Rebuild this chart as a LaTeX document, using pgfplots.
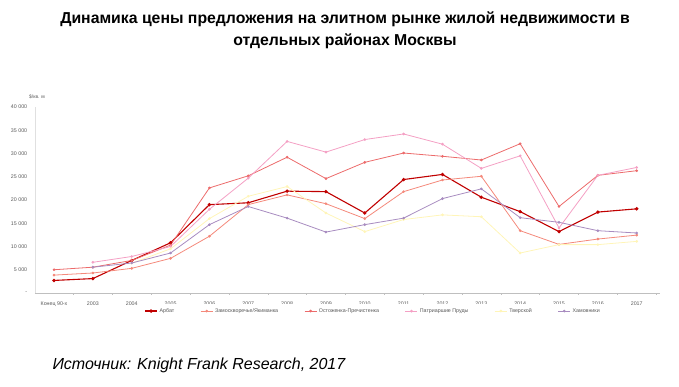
\documentclass[border=0pt]{standalone}
\usepackage{fontspec}
\setmainfont{Liberation Sans}
\usepackage{pgfplots}
\pgfplotsset{compat=1.18}
\definecolor{arbat}{HTML}{C00000}
\definecolor{zam}{HTML}{F4897B}
\definecolor{ost}{HTML}{EC6B6B}
\definecolor{pat}{HTML}{F4A0C4}
\definecolor{tver}{HTML}{FFF5B8}
\definecolor{ham}{HTML}{A88CC0}
\definecolor{lbl}{HTML}{595959}
\begin{document}
\begin{tikzpicture}
\path[use as bounding box] (0pt,0pt) rectangle (679pt,387pt);
\node[align=center,font=\bfseries\fontsize{15.8}{22}\selectfont] at (345pt,357pt)
  {Динамика цены предложения на элитном рынке жилой недвижимости в\\отдельных районах Москвы};
\node[anchor=west,font=\itshape\fontsize{16}{18}\selectfont] at (49pt,22pt) {Источник: Knight Frank Research, 2017};
\node[anchor=west,font=\fontsize{5}{6}\selectfont,text=lbl,inner sep=0pt] at (29pt,290pt) {\$/кв. м};
\begin{axis}[
  at={(35pt,94pt)}, anchor=south west,
  scale only axis, width=625pt, height=186pt,
  xmin=-0.49, xmax=15.6, ymin=0, ymax=40000,
  axis x line*=bottom, axis y line*=left,
  x axis line style={draw=black!25,-}, y axis line style={draw=black!12,-},
  xtick={0,...,15},
  xticklabels={Конец 90-х,2003,2004,2005,2006,2007,2008,2009,2010,2011,2012,2013,2014,2015,2016,2017},
  major x tick style={draw=none},
  minor xtick={0.5,1.5,...,15.5},
  minor x tick style={draw=black!25},
  minor tick length=2pt, tick align=outside,
  ytick={0,5000,...,40000},
  scaled y ticks=false,
  yticklabels={-,5 000,10 000,15 000,20 000,25 000,30 000,35 000,40 000},
  major y tick style={draw=none},
  tick label style={font=\fontsize{5.3}{6}\selectfont,text=lbl},
  xticklabel style={yshift=-1pt},
  legend columns=6,
  legend style={at={(axis description cs:0.541,-0.097)},anchor=center,draw=none,
    font=\fontsize{5.3}{6}\selectfont,text=lbl,
    /tikz/every even column/.append style={column sep=24pt}},
  legend image code/.code={\draw[#1,mark repeat=2,mark phase=2] plot coordinates {(0pt,0pt) (6pt,0pt) (12pt,0pt)};},
  every axis plot/.append style={mark=*,mark size=0.9pt,line width=0.8pt},
]
\addplot[color=arbat,line width=1.1pt,mark size=1.1pt] table {
0 2700
1 3100
2 7000
3 10800
4 19000
5 19400
6 21900
7 21800
8 17200
9 24400
10 25500
11 20600
12 17500
13 13200
14 17400
15 18100
};
\addlegendentry{Арбат}
\addplot[color=zam] table {
0 3850
1 4300
2 5300
3 7450
4 12200
5 19000
6 21100
7 19200
8 16000
9 21800
10 24300
11 25100
12 13400
13 10450
14 11600
15 12450
};
\addlegendentry{Замоскворечье/Якиманка}
\addplot[color=ost] table {
0 5000
1 5550
2 7000
3 10300
4 22600
5 25200
6 29200
7 24600
8 28100
9 30100
10 29400
11 28600
12 32100
13 18600
14 25300
15 26300
};
\addlegendentry{Остоженка-Пречистенка}
\addplot[color=pat] table {
1 6600
2 7850
3 10000
4 18000
5 24700
6 32600
7 30300
8 33000
9 34200
10 32000
11 26800
12 29500
13 14000
14 25300
15 27000
};
\addlegendentry{Патриаршие Пруды}
\addplot[color=tver] table {
2 6400
3 9500
4 16000
5 20800
6 22900
7 17200
8 13200
9 15800
10 16800
11 16400
12 8600
13 10400
14 10400
15 11100
};
\addlegendentry{Тверской}
\addplot[color=ham] table {
1 5550
2 6450
3 8600
4 14700
5 18600
6 16100
7 13100
8 14700
9 16100
10 20300
11 22400
12 16200
13 15200
14 13400
15 12900
};
\addlegendentry{Хамовники}
\end{axis}
\end{tikzpicture}
\end{document}
